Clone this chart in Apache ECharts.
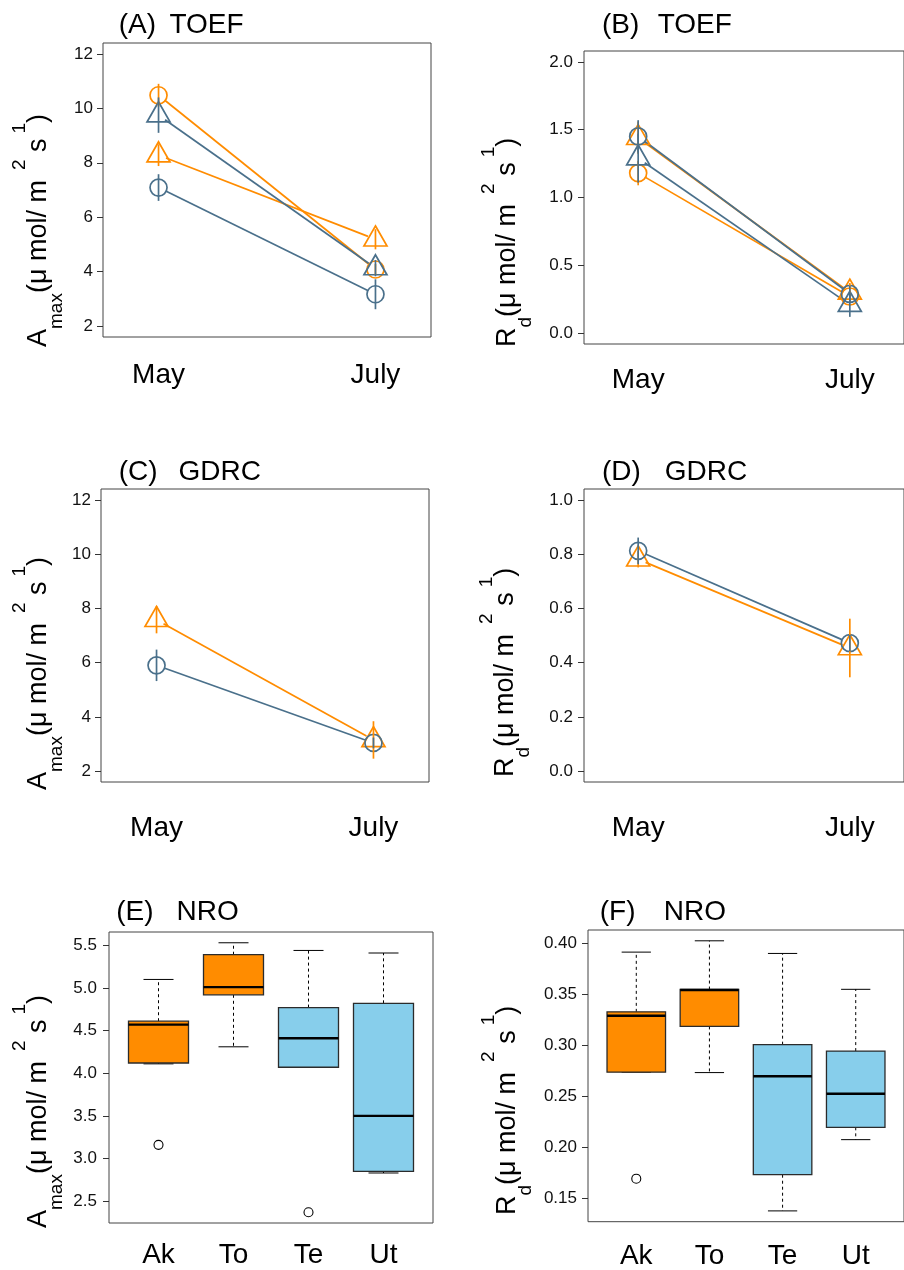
<!DOCTYPE html>
<html>
<head>
<meta charset="utf-8">
<script src="https://cdn.jsdelivr.net/npm/echarts@6/dist/echarts.min.js"></script>
<style>
  html, body { margin: 0; padding: 0; background: #fff; }
  #chart { width: 904px; height: 1270px; }
</style>
</head>
<body>
<div id="chart"></div>
<script>
// ---- data -------------------------------------------------------------
const months = ['May', 'July'];
const monthPos = [1, 2];

// (A) Amax at TOEF: group means and standard errors, [May, July]
const toefAmaxOrangeCircle = [10.48, 4.08];
const toefAmaxOrangeCircleSE = [0.42, 0.20];
const toefAmaxOrangeTriangle = [8.28, 5.19];
const toefAmaxOrangeTriangleSE = [0.40, 0.37];
const toefAmaxBlueCircle = [7.09, 3.17];
const toefAmaxBlueCircleSE = [0.49, 0.55];
const toefAmaxBlueTriangle = [9.75, 4.13];
const toefAmaxBlueTriangleSE = [0.65, 0.30];

// (B) Rd at TOEF
const toefRdOrangeCircle = [1.18, 0.27];
const toefRdOrangeCircleSE = [0.09, 0.04];
const toefRdOrangeTriangle = [1.44, 0.30];
const toefRdOrangeTriangleSE = [0.12, 0.07];
const toefRdBlueCircle = [1.45, 0.29];
const toefRdBlueCircleSE = [0.12, 0.06];
const toefRdBlueTriangle = [1.29, 0.21];
const toefRdBlueTriangleSE = [0.18, 0.09];

// (C) Amax at GDRC
const gdrcAmaxOrangeTriangle = [7.58, 3.15];
const gdrcAmaxOrangeTriangleSE = [0.50, 0.69];
const gdrcAmaxBlueCircle = [5.90, 3.04];
const gdrcAmaxBlueCircleSE = [0.58, 0.20];

// (D) Rd at GDRC
const gdrcRdOrangeTriangle = [0.781, 0.454];
const gdrcRdOrangeTriangleSE = [0.03, 0.108];
const gdrcRdBlueCircle = [0.812, 0.472];
const gdrcRdBlueCircleSE = [0.049, 0.03];

// (E), (F) NRO: [lower whisker, Q1, median, Q3, upper whisker] per group
const nroGroups = ['Ak', 'To', 'Te', 'Ut'];
const nroAmaxBoxes = [
  [4.11, 4.12, 4.57, 4.61, 5.10],
  [4.31, 4.92, 5.01, 5.39, 5.53],
  [4.07, 4.07, 4.41, 4.77, 5.44],
  [2.83, 2.85, 3.50, 4.82, 5.41]
];
const nroAmaxOutliers = [[1, 3.16], [3, 2.37]];
const nroRdBoxes = [
  [0.2734, 0.2734, 0.3287, 0.3326, 0.3912],
  [0.2730, 0.3183, 0.3540, 0.3545, 0.4023],
  [0.1373, 0.1728, 0.2694, 0.3004, 0.3899],
  [0.2072, 0.2193, 0.2522, 0.2941, 0.3547]
];
const nroRdOutliers = [[1, 0.1689]];

// tick values
const amaxTicks = [2, 4, 6, 8, 10, 12];
const rdToefTicks = [0, 0.5, 1, 1.5, 2];
const rdGdrcTicks = [0, 0.2, 0.4, 0.6, 0.8, 1];
const nroAmaxTicks = [2.5, 3, 3.5, 4, 4.5, 5, 5.5];
const nroRdTicks = [0.15, 0.2, 0.25, 0.3, 0.35, 0.4];

// panel headings
const panelTags = ['(A)', '(B)', '(C)', '(D)', '(E)', '(F)'];
const siteNames = ['TOEF', 'TOEF', 'GDRC', 'GDRC', 'NRO', 'NRO'];

// ---- styles -----------------------------------------------------------
const FONT = '"Liberation Sans", Arial, Helvetica, sans-serif';
const ORANGE = '#FF8C00';
const BLUE = '#4A708B';
const SKY = '#87CEEB';
const FRAME = '#444';
const LW = 1.7;
const boxFills = [ORANGE, ORANGE, SKY, SKY];

// plotting regions and text placement for each panel
const layout = [
  { grid: { left: 103, top: 43, width: 328, height: 294 }, title: [118.7, 11.3, 13.4], ylab: [66.6, 347], xMargin: 24.3, yMargin: 10 },
  { grid: { left: 584, top: 51, width: 328, height: 293 }, title: [602, 11.3, 18.4], ylab: [535.3, 347], xMargin: 22.3, yMargin: 11 },
  { grid: { left: 101, top: 489, width: 328, height: 293 }, title: [118.7, 458, 21], ylab: [66.6, 790], xMargin: 32.3, yMargin: 10 },
  { grid: { left: 584, top: 489, width: 328, height: 293 }, title: [602, 458, 23.8], ylab: [533.6, 777], xMargin: 32.3, yMargin: 11 },
  { grid: { left: 109, top: 932, width: 324, height: 291 }, title: [116.3, 898, 23], ylab: [66.6, 1228], xMargin: 18.3, yMargin: 12 },
  { grid: { left: 588, top: 930, width: 327, height: 293 }, title: [599.7, 898, 28.4], ylab: [535.6, 1215], xMargin: 20.3, yMargin: 11 }
];

// R-style 4% axis extension
const extend = (lo, hi) => [lo - 0.04 * (hi - lo), hi + 0.04 * (hi - lo)];
const flat = boxes => boxes.flat();
const nroAmaxLim = extend(Math.min(...flat(nroAmaxBoxes), ...nroAmaxOutliers.map(d => d[1])),
                          Math.max(...flat(nroAmaxBoxes)));
const nroRdLim = extend(Math.min(...flat(nroRdBoxes), ...nroRdOutliers.map(d => d[1])),
                        Math.max(...flat(nroRdBoxes)));

const yAxisSpecs = [
  { lim: extend(2, 12), ticks: amaxTicks, dec: 0 },
  { lim: extend(0, 2), ticks: rdToefTicks, dec: 1 },
  { lim: extend(2, 12), ticks: amaxTicks, dec: 0 },
  { lim: extend(0, 1), ticks: rdGdrcTicks, dec: 1 },
  { lim: nroAmaxLim, ticks: nroAmaxTicks, dec: 1 },
  { lim: nroRdLim, ticks: nroRdTicks, dec: 2 }
];
const monthLim = extend(0.8, 2.2);
const groupLim = extend(0.5, 4.5);

// ---- renderers --------------------------------------------------------
// connecting segment between months, trimmed near the markers
function segmentRenderer(color, gap) {
  return function (params, api) {
    const p1 = api.coord([api.value(0), api.value(1)]);
    const p2 = api.coord([api.value(2), api.value(3)]);
    const dx = p2[0] - p1[0], dy = p2[1] - p1[1];
    const len = Math.hypot(dx, dy);
    const ux = dx / len, uy = dy / len;
    return {
      type: 'line',
      shape: { x1: p1[0] + ux * gap, y1: p1[1] + uy * gap, x2: p2[0] - ux * gap, y2: p2[1] - uy * gap },
      style: { stroke: color, lineWidth: LW }
    };
  };
}

// vertical +/- SE bar
function errorBarRenderer(color) {
  return function (params, api) {
    const x = api.value(0), m = api.value(1), se = api.value(2);
    const top = api.coord([x, m + se]);
    const bot = api.coord([x, m - se]);
    return {
      type: 'line',
      shape: { x1: top[0], y1: top[1], x2: bot[0], y2: bot[1] },
      style: { stroke: color, lineWidth: LW }
    };
  };
}

// R-style box: dashed whiskers, half-width staples, filled box, heavy median
function boxRenderer(fills, boxWidth) {
  return function (params, api) {
    const x = api.value(0);
    const v = [1, 2, 3, 4, 5].map(i => api.value(i));
    const y = v.map(val => api.coord([x, val])[1]);
    const cx = api.coord([x, v[0]])[0];
    const hw = api.size([boxWidth, 0])[0] / 2;
    const sw = hw / 2;
    const ink = { stroke: '#000', lineWidth: 1 };
    const dashed = { stroke: '#000', lineWidth: 1, lineDash: [3, 3] };
    return {
      type: 'group',
      children: [
        { type: 'line', shape: { x1: cx, y1: y[3], x2: cx, y2: y[4] }, style: dashed },
        { type: 'line', shape: { x1: cx, y1: y[1], x2: cx, y2: y[0] }, style: dashed },
        { type: 'line', shape: { x1: cx - sw, y1: y[4], x2: cx + sw, y2: y[4] }, style: ink },
        { type: 'line', shape: { x1: cx - sw, y1: y[0], x2: cx + sw, y2: y[0] }, style: ink },
        { type: 'rect', shape: { x: cx - hw, y: y[3], width: 2 * hw, height: y[1] - y[3] },
          style: { fill: fills[params.dataIndex], stroke: '#2b2b2b', lineWidth: 1.3 } },
        { type: 'line', shape: { x1: cx - hw, y1: y[2], x2: cx + hw, y2: y[2] },
          style: { stroke: '#000', lineWidth: 2.4 } }
      ]
    };
  };
}

// ---- series builders --------------------------------------------------
const MARKERS = {
  circle: { symbol: 'circle', symbolSize: 17, symbolOffset: [0, 0] },
  triangle: { symbol: 'triangle', symbolSize: [23, 20], symbolOffset: [0, -3.3] }
};

function groupSeries(gi, means, ses, marker, color) {
  return [
    {
      type: 'custom', xAxisIndex: gi, yAxisIndex: gi, z: 2, silent: true,
      renderItem: segmentRenderer(color, 8),
      encode: { x: [0, 2], y: [1, 3] },
      data: [[monthPos[0], means[0], monthPos[1], means[1]]]
    },
    {
      type: 'custom', xAxisIndex: gi, yAxisIndex: gi, z: 4, silent: true,
      renderItem: errorBarRenderer(color),
      encode: { x: 0, y: 1 },
      data: monthPos.map((x, i) => [x, means[i], ses[i]])
    },
    Object.assign({
      type: 'scatter', xAxisIndex: gi, yAxisIndex: gi, z: 3, silent: true,
      itemStyle: { color: 'rgba(0,0,0,0)', borderColor: color, borderWidth: LW, opacity: 1 },
      data: monthPos.map((x, i) => [x, means[i]])
    }, MARKERS[marker])
  ];
}

function boxSeries(gi, boxes, outliers) {
  return [
    {
      type: 'custom', xAxisIndex: gi, yAxisIndex: gi, z: 2, silent: true,
      renderItem: boxRenderer(boxFills, 0.8),
      encode: { x: 0, y: [1, 2, 3, 4, 5] },
      data: boxes.map((s, i) => [i + 1, ...s])
    },
    {
      type: 'scatter', xAxisIndex: gi, yAxisIndex: gi, z: 3, silent: true,
      symbol: 'circle', symbolSize: 9,
      itemStyle: { color: 'rgba(0,0,0,0)', borderColor: '#000', borderWidth: 1.1, opacity: 1 },
      data: outliers
    }
  ];
}

const series = [].concat(
  groupSeries(0, toefAmaxOrangeCircle, toefAmaxOrangeCircleSE, 'circle', ORANGE),
  groupSeries(0, toefAmaxOrangeTriangle, toefAmaxOrangeTriangleSE, 'triangle', ORANGE),
  groupSeries(0, toefAmaxBlueCircle, toefAmaxBlueCircleSE, 'circle', BLUE),
  groupSeries(0, toefAmaxBlueTriangle, toefAmaxBlueTriangleSE, 'triangle', BLUE),

  groupSeries(1, toefRdOrangeCircle, toefRdOrangeCircleSE, 'circle', ORANGE),
  groupSeries(1, toefRdOrangeTriangle, toefRdOrangeTriangleSE, 'triangle', ORANGE),
  groupSeries(1, toefRdBlueCircle, toefRdBlueCircleSE, 'circle', BLUE),
  groupSeries(1, toefRdBlueTriangle, toefRdBlueTriangleSE, 'triangle', BLUE),

  groupSeries(2, gdrcAmaxOrangeTriangle, gdrcAmaxOrangeTriangleSE, 'triangle', ORANGE),
  groupSeries(2, gdrcAmaxBlueCircle, gdrcAmaxBlueCircleSE, 'circle', BLUE),

  groupSeries(3, gdrcRdOrangeTriangle, gdrcRdOrangeTriangleSE, 'triangle', ORANGE),
  groupSeries(3, gdrcRdBlueCircle, gdrcRdBlueCircleSE, 'circle', BLUE),

  boxSeries(4, nroAmaxBoxes, nroAmaxOutliers),
  boxSeries(5, nroRdBoxes, nroRdOutliers)
);

// ---- axes, headings, y-axis titles ------------------------------------
const grids = layout.map(l => Object.assign({
  show: true, borderColor: FRAME, borderWidth: 1, backgroundColor: 'transparent', containLabel: false
}, l.grid));

const xAxes = layout.map((l, i) => {
  const isBox = i >= 4;
  const pos = isBox ? [1, 2, 3, 4] : monthPos;
  const names = isBox ? nroGroups : months;
  const lim = isBox ? groupLim : monthLim;
  return {
    type: 'value', gridIndex: i, min: lim[0], max: lim[1],
    axisLine: { show: false, onZero: false },
    axisTick: { show: false },
    splitLine: { show: false },
    axisLabel: {
      show: true, customValues: pos,
      formatter: v => names[pos.indexOf(v)],
      fontSize: 28, fontFamily: FONT, color: '#000', margin: l.xMargin
    }
  };
});

const yAxes = layout.map((l, i) => {
  const s = yAxisSpecs[i];
  return {
    type: 'value', gridIndex: i, min: s.lim[0], max: s.lim[1],
    axisLine: { show: false, onZero: false },
    splitLine: { show: false },
    axisTick: { show: true, customValues: s.ticks, length: 6, lineStyle: { color: '#333', width: 1 } },
    axisLabel: {
      customValues: s.ticks, formatter: v => v.toFixed(s.dec),
      fontSize: 17, fontFamily: FONT, color: '#111', margin: l.yMargin
    }
  };
});

const titles = layout.map((l, i) => ({
  text: '{tag|' + panelTags[i] + '}{site|' + siteNames[i] + '}',
  left: l.title[0], top: l.title[1], padding: 0,
  textStyle: {
    fontSize: 28, fontFamily: FONT, fontWeight: 'normal', color: '#000',
    rich: {
      tag: { fontSize: 28, lineHeight: 28, fontFamily: FONT, color: '#000' },
      site: { fontSize: 28, lineHeight: 28, fontFamily: FONT, color: '#000', padding: [0, 0, 0, l.title[2]] }
    }
  }
}));

const amaxLabel = '{big|A}{sub|max}{big|(μ mol/ m}{supA|2}{big| s}{supB|1}{big|)}';
const rdLabel = '{big|R}{sub|d}{big|(μ mol/ m}{supA|2}{big| s}{supB|1}{big|)}';
const labelRich = {
  big: { fontSize: 27, lineHeight: 56, fontFamily: FONT, fill: '#000' },
  sub: { fontSize: 19, lineHeight: 36, verticalAlign: 'bottom', fontFamily: FONT, fill: '#000' },
  supA: { fontSize: 19, lineHeight: 19, verticalAlign: 'top', fontFamily: FONT, fill: '#000', padding: [0, 0, 0, 10] },
  supB: { fontSize: 19, lineHeight: 19, verticalAlign: 'top', fontFamily: FONT, fill: '#000', padding: [0, 0, 0, 5] }
};
const yTitles = layout.map((l, i) => ({
  type: 'text', x: l.ylab[0], y: l.ylab[1], rotation: Math.PI / 2, silent: true,
  style: {
    text: (i % 2 === 0) ? amaxLabel : rdLabel,
    rich: labelRich,
    x: 0, y: 0, align: 'left', verticalAlign: 'bottom',
    fontSize: 27, fontFamily: FONT, fill: '#000'
  }
}));

const chart = echarts.init(document.getElementById('chart'), null, { renderer: 'canvas' });
chart.setOption({
  animation: false,
  backgroundColor: '#fff',
  textStyle: { fontFamily: FONT },
  title: titles,
  grid: grids,
  xAxis: xAxes,
  yAxis: yAxes,
  graphic: yTitles,
  series: series
});
</script>
</body>
</html>
